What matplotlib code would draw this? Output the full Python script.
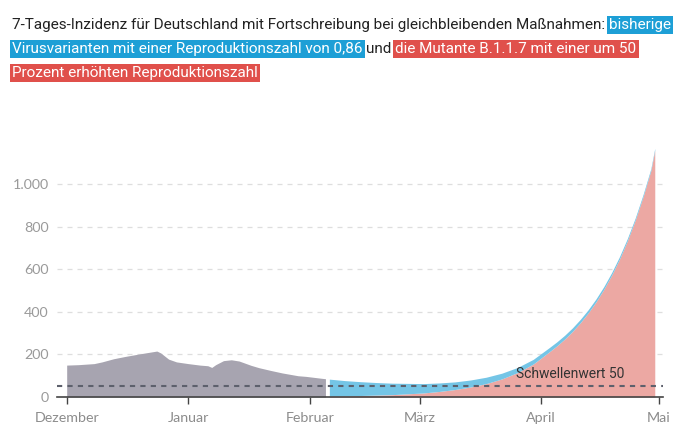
import matplotlib
matplotlib.use('Agg')
import matplotlib.pyplot as plt
from matplotlib.patches import Rectangle
import pandas as pd

# -------------------------------------------------------------------
# Data
# -------------------------------------------------------------------
obs_dates = ['2020-12-01', '2020-12-04', '2020-12-08', '2020-12-10', '2020-12-13',
             '2020-12-16', '2020-12-20', '2020-12-22', '2020-12-24', '2020-12-25',
             '2020-12-27', '2020-12-29', '2021-01-01', '2021-01-04', '2021-01-06',
             '2021-01-07', '2021-01-08', '2021-01-10', '2021-01-12', '2021-01-14',
             '2021-01-17', '2021-01-19', '2021-01-22', '2021-01-25', '2021-01-29',
             '2021-01-31', '2021-02-04', '2021-02-05']
obs_values = [150, 152, 157, 165, 180,
              191, 204, 210, 216, 207,
              178, 165, 157, 150, 147,
              139, 152, 171, 175, 169,
              149, 138, 125, 113, 100,
              97, 88, 86]

proj_dates = ['2021-02-06', '2021-02-10', '2021-02-14', '2021-02-18', '2021-02-22',
              '2021-02-26', '2021-03-02', '2021-03-06', '2021-03-10', '2021-03-14',
              '2021-03-18', '2021-03-22', '2021-03-26', '2021-03-30', '2021-04-03',
              '2021-04-05', '2021-04-07', '2021-04-09', '2021-04-11', '2021-04-13',
              '2021-04-15', '2021-04-17', '2021-04-19', '2021-04-21', '2021-04-23',
              '2021-04-25', '2021-04-27', '2021-04-29', '2021-04-30']
# bisherige Varianten, R = 0,86
proj_old = [80, 72, 65, 59, 54,
            49, 44, 40, 36, 33,
            30, 27, 24, 22, 20,
            19, 18, 17, 16, 15,
            14, 13, 12, 12, 11,
            10, 10, 9, 9]
# Mutante B.1.1.7
proj_b117 = [4, 5, 7, 9, 11,
             15, 19, 26, 35, 47,
             63, 85, 115, 155, 211,
             240, 272, 308, 349, 395,
             447, 506, 573, 648, 734,
             831, 941, 1065, 1160]

month_ticks = ['2020-12-01', '2021-01-01', '2021-02-01', '2021-03-01', '2021-04-01', '2021-05-01']
month_labels = ['Dezember', 'Januar', 'Februar', 'März', 'April', 'Mai']
y_ticks = [0, 200, 400, 600, 800, 1000]
y_labels = ['0', '200', '400', '600', '800', '1.000']
threshold = 50

GREY = '#a7a4b0'
BLUE_FILL = '#74c5e6'
RED_FILL = '#eca8a3'
BLUE_HL = '#1d9fd6'
RED_HL = '#e0504b'

obs_x = pd.to_datetime(obs_dates)
proj_x = pd.to_datetime(proj_dates)
old = pd.Series(proj_old, dtype=float).values
b117 = pd.Series(proj_b117, dtype=float).values

# -------------------------------------------------------------------
# Figure
# -------------------------------------------------------------------
W, H = 680, 437
fig = plt.figure(figsize=(W / 100, H / 100), dpi=100)
ax = fig.add_axes([57 / W, 40 / H, 606 / W, 255.2 / H])

ax.fill_between(obs_x, 0, obs_values, color=GREY, lw=0, zorder=2)
ax.fill_between(proj_x, 0, b117, color=RED_FILL, lw=0, zorder=2)
ax.fill_between(proj_x, b117, b117 + old, color=BLUE_FILL, lw=0, zorder=2)

thr = ax.axhline(threshold, color='#5d606c', lw=1.5, zorder=4)
thr.set_dashes([2.5, 2.5])
ax.text(pd.Timestamp('2021-03-25 12:00'), 108, 'Schwellenwert 50',
        ha='left', va='center', fontsize=10, color='#333333',
        family='Roboto', zorder=5)

start = pd.Timestamp('2020-12-01')
ax.set_xlim(start - pd.Timedelta(days=2.47), start + pd.Timedelta(days=152.1))
ax.set_ylim(0, 1200)

ax.set_xticks(pd.to_datetime(month_ticks))
ax.set_xticklabels(month_labels)
ax.set_yticks(y_ticks)
ax.set_yticklabels(y_labels)

ax.tick_params(axis='x', length=5, width=1, color='#444444', direction='out',
               labelsize=10.3, labelcolor='#8c8c8c', pad=6)
ax.tick_params(axis='y', length=0, labelsize=10.3, labelcolor='#9a9a9a', pad=6)
for lbl in ax.get_xticklabels() + ax.get_yticklabels():
    lbl.set_family('Lato')

for s in ['top', 'right', 'left']:
    ax.spines[s].set_visible(False)
ax.spines['bottom'].set_color('#444444')
ax.spines['bottom'].set_linewidth(1.2)
ax.spines['bottom'].set_zorder(6)

for yv in y_ticks[1:]:
    g = ax.axhline(yv, color='#dedede', lw=0.9, zorder=1)
    g.set_dashes([4, 4])

# -------------------------------------------------------------------
# Title with highlighted phrases
# -------------------------------------------------------------------
title_lines = [
    [('7-Tages-Inzidenz für Deutschland mit Fortschreibung bei gleichbleibenden Maßnahmen:', None),
     ('bisherige', BLUE_HL)],
    [('Virusvarianten mit einer Reproduktionszahl von 0,86', BLUE_HL),
     ('und', None),
     ('die Mutante B.1.1.7 mit einer um 50', RED_HL)],
    [('Prozent erhöhten Reproduktionszahl', RED_HL)],
]
baselines = [29.5, 53, 77]
TFS = 11
TFAM = 'Roboto'

renderer = fig.canvas.get_renderer()


def text_width(s):
    t = fig.text(0, 0, s, fontsize=TFS, family=TFAM)
    w = t.get_window_extent(renderer).width
    t.remove()
    return w


space = text_width('a a') - text_width('aa')

for segs, base in zip(title_lines, baselines):
    x = 12
    for txt, hl in segs:
        color = '#222222' if hl is None else 'white'
        t = fig.text(x / W, (H - base) / H, txt, fontsize=TFS, family=TFAM,
                     color=color, ha='left', va='baseline', zorder=3)
        w = t.get_window_extent(renderer).width
        if hl is not None:
            fig.add_artist(Rectangle(((x - 2) / W, (H - base - 4.5) / H),
                                     (w + 4) / W, 18 / H,
                                     transform=fig.transFigure,
                                     color=hl, lw=0, zorder=2))
        x += w + space

fig.savefig('out.png', dpi=100, facecolor='white')
